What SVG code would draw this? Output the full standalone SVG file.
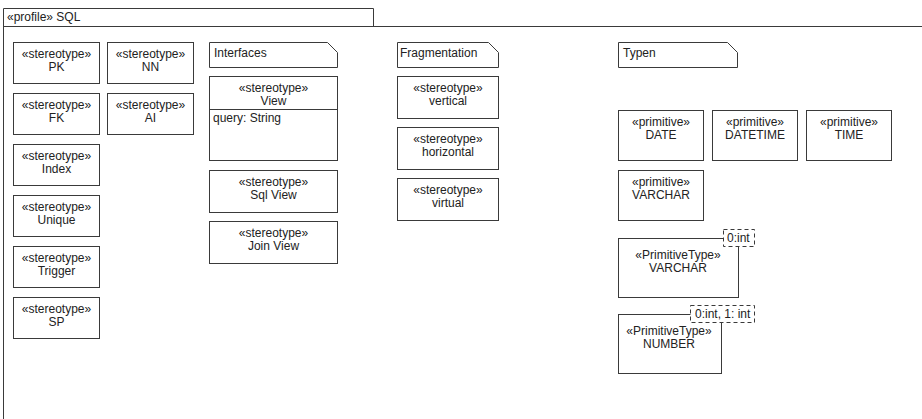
<svg xmlns="http://www.w3.org/2000/svg" width="922" height="419" viewBox="0 0 922 419">
<style>
.bg{fill:#ffffff}
.box{fill:#ffffff;stroke:#3a3a3a;stroke-width:1}
.frame{fill:none;stroke:#3a3a3a;stroke-width:1}
.tpl{fill:#ffffff;stroke:#3a3a3a;stroke-width:1;stroke-dasharray:4,3}
text{font-family:"Liberation Sans",Arial,sans-serif;font-size:12px;fill:#222}
.c{text-anchor:middle}
</style>
<rect class="bg" x="0" y="0" width="922" height="419"/>
<g id="frame">
<path class="frame" d="M3.5,419 V8.5 H373.5 V26.5 M3.5,26.5 H922"/>
<text x="7" y="21">«profile» SQL</text>
</g>
<g id="PK"><rect class="box" x="13.5" y="42.5" width="86" height="41"/><text class="c" x="56.5" y="57.5">«stereotype»</text><text class="c" x="56.5" y="70.5">PK</text></g>
<g id="NN"><rect class="box" x="107.5" y="42.5" width="86" height="41"/><text class="c" x="150.5" y="57.5">«stereotype»</text><text class="c" x="150.5" y="70.5">NN</text></g>
<g id="FK"><rect class="box" x="13.5" y="93.5" width="86" height="41"/><text class="c" x="56.5" y="108.5">«stereotype»</text><text class="c" x="56.5" y="121.5">FK</text></g>
<g id="AI"><rect class="box" x="107.5" y="93.5" width="86" height="41"/><text class="c" x="150.5" y="108.5">«stereotype»</text><text class="c" x="150.5" y="121.5">AI</text></g>
<g id="Index"><rect class="box" x="13.5" y="144.5" width="86" height="41"/><text class="c" x="56.5" y="159.5">«stereotype»</text><text class="c" x="56.5" y="172.5">Index</text></g>
<g id="Unique"><rect class="box" x="13.5" y="195.5" width="86" height="41"/><text class="c" x="56.5" y="210.5">«stereotype»</text><text class="c" x="56.5" y="223.5">Unique</text></g>
<g id="Trigger"><rect class="box" x="13.5" y="246.5" width="86" height="41"/><text class="c" x="56.5" y="261.5">«stereotype»</text><text class="c" x="56.5" y="274.5">Trigger</text></g>
<g id="SP"><rect class="box" x="13.5" y="297.5" width="86" height="41"/><text class="c" x="56.5" y="312.5">«stereotype»</text><text class="c" x="56.5" y="325.5">SP</text></g>

<g id="Interfaces"><path class="box" d="M209.5,42.5 H327.5 L337.5,52.5 V67.5 H209.5 Z"/><text x="214" y="57">Interfaces</text></g>
<g id="View"><rect class="box" x="209.5" y="76.5" width="128" height="84"/><line class="box" x1="209.5" y1="109.5" x2="337.5" y2="109.5"/><text class="c" x="273.5" y="91.5">«stereotype»</text><text class="c" x="273.5" y="104.5">View</text><text x="213" y="122">query: String</text></g>
<g id="SqlView"><rect class="box" x="209.5" y="170.5" width="128" height="42"/><text class="c" x="273.5" y="185.5">«stereotype»</text><text class="c" x="273.5" y="198.5">Sql View</text></g>
<g id="JoinView"><rect class="box" x="209.5" y="221.5" width="128" height="42"/><text class="c" x="273.5" y="236.5">«stereotype»</text><text class="c" x="273.5" y="249.5">Join View</text></g>

<g id="Fragmentation"><path class="box" d="M397.5,42.5 H488.5 L498.5,52.5 V67.5 H397.5 Z"/><text x="400" y="57">Fragmentation</text></g>
<g id="vertical"><rect class="box" x="397.5" y="76.5" width="101" height="42"/><text class="c" x="448" y="91.5">«stereotype»</text><text class="c" x="448" y="104.5">vertical</text></g>
<g id="horizontal"><rect class="box" x="397.5" y="127.5" width="101" height="42"/><text class="c" x="448" y="142.5">«stereotype»</text><text class="c" x="448" y="155.5">horizontal</text></g>
<g id="virtual"><rect class="box" x="397.5" y="178.5" width="101" height="42"/><text class="c" x="448" y="193.5">«stereotype»</text><text class="c" x="448" y="206.5">virtual</text></g>

<g id="Typen"><path class="box" d="M618.5,42.5 H727.5 L737.5,52.5 V67.5 H618.5 Z"/><text x="623" y="57">Typen</text></g>
<g id="DATE"><rect class="box" x="618.5" y="110.5" width="85" height="50"/><text class="c" x="661" y="126">«primitive»</text><text class="c" x="661" y="139">DATE</text></g>
<g id="DATETIME"><rect class="box" x="712.5" y="110.5" width="85" height="50"/><text class="c" x="755" y="126">«primitive»</text><text class="c" x="755" y="139">DATETIME</text></g>
<g id="TIME"><rect class="box" x="806.5" y="110.5" width="85" height="50"/><text class="c" x="849" y="126">«primitive»</text><text class="c" x="849" y="139">TIME</text></g>
<g id="VARCHAR1"><rect class="box" x="618.5" y="170.5" width="85" height="50"/><text class="c" x="661" y="186">«primitive»</text><text class="c" x="661" y="199">VARCHAR</text></g>

<g id="VARCHAR2"><rect class="box" x="618.5" y="238.5" width="120" height="59"/><rect class="tpl" x="723.5" y="229.5" width="31" height="17"/><text x="727" y="242">0:int</text><text class="c" x="678" y="259">«PrimitiveType»</text><text class="c" x="678" y="272">VARCHAR</text></g>
<g id="NUMBER"><rect class="box" x="618.5" y="314.5" width="103" height="59"/><rect class="tpl" x="690.5" y="305.5" width="64" height="17"/><text x="695" y="318">0:int, 1: int</text><text class="c" x="669" y="335">«PrimitiveType»</text><text class="c" x="669" y="348">NUMBER</text></g>
<g id="connectors"/>
</svg>
